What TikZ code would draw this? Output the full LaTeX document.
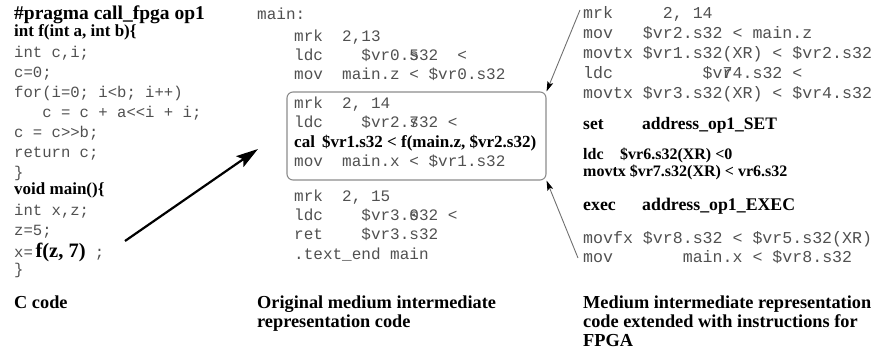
\documentclass[tikz,border=0pt]{standalone}
\usepackage{fontspec}
\setmainfont{Liberation Serif}
\setmonofont{Liberation Mono}
\usetikzlibrary{arrows.meta}

\definecolor{codegray}{HTML}{505050}
\definecolor{framegray}{HTML}{8C8C8C}
\definecolor{leadgray}{HTML}{707070}

% two glyphs printed on top of each other
\newcommand\ov[2]{\rlap{#1}#2}

\tikzset{
  code/.style={anchor=base west, inner sep=0pt, text=codegray,
               font=\ttfamily\fontsize{16}{16}\selectfont},
  lcode/.style={code, font=\ttfamily\fontsize{15.6}{16}\selectfont},
  rcode/.style={code, font=\ttfamily\fontsize{16.6}{17}\selectfont},
  boldline/.style={anchor=base west, inner sep=0pt,
                   font=\bfseries\fontsize{17}{17}\selectfont},
  caption/.style={anchor=base west, inner sep=0pt,
                  font=\bfseries\fontsize{18.3}{19}\selectfont},
  callbox/.style={draw=framegray, line width=1.1pt, rounded corners=6pt,
                  minimum width=259pt, minimum height=88pt, inner sep=0pt},
  bigarrow/.style={line width=2.2pt, -{Stealth[length=22pt, width=13pt, inset=4pt]}},
  leader/.style={draw=leadgray, line width=0.9pt,
                 -{Stealth[length=10pt, width=6pt, inset=2pt, color=black, fill=black]}},
}

\begin{document}
\begin{tikzpicture}[x=1pt, y=-1pt]
\useasboundingbox (0,0) rectangle (875,358);

% ---------------- C source ----------------
\node[boldline, font=\bfseries\fontsize{19.5}{20}\selectfont] (c01) at (14,20) {\#pragma call\_fpga op1};
\node[boldline] (c02) at (14,37) {int f(int a, int b)\{};
\node[lcode] (c03) at (14,58) {int c,i;};
\node[lcode] (c04) at (14,78) {c=0;};
\node[lcode] (c05) at (14,98) {for(i=0; i<b; i++)};
\node[lcode] (c06) at (14,118) {~~~c = c + a<<i + i;};
\node[lcode] (c07) at (14,138) {c = c>>b;};
\node[lcode] (c08) at (14,158) {return c;};
\node[lcode] (c09) at (14,178) {\}};
\node[boldline] (c10) at (14,195) {void main()\{};
\node[lcode] (c11) at (14,215) {int x,z;};
\node[lcode] (c12) at (14,235) {z=5;};
\node[lcode] (c13) at (14,257) {x=\,{\rmfamily\bfseries\color{black}\fontsize{20.5}{21}\selectfont f(z, 7)}~;};
\node[lcode] (c14) at (14,274) {\}};
\node[caption] (capc) at (14,308) {C code};

% ---------------- original intermediate code ----------------
\node[code] (m00) at (257,20) {main:};
\node[code] (m01) at (294,42) {mrk~~2,13};
\node[code] (m02) at (294,61) {ldc~~~~\$vr0.\ov{5}{s}32~~<};
\node[code] (m03) at (294,80) {mov~~main.z~<~\$vr0.s32};

\node[callbox] (ibox) at (416.5,136) {};
\node[code] (m04) at (294,109) {mrk~~2,~14};
\node[code] (m05) at (294,128) {ldc~~~~\$vr2.\ov{7}{s}32~<};
\node[boldline, font=\bfseries\fontsize{17}{17}\selectfont] (m06) at (294,148) {cal\, \$vr1.s32 < f(main.z, \$vr2.s32)};
\node[code] (m07) at (294,167) {mov~~main.x~<~\$vr1.s32};

\node[code] (m08) at (294,201) {mrk~~2,~15};
\node[code] (m09) at (294,221) {ldc~~~~\$vr3.\ov{0}{s}32~<};
\node[code] (m10) at (294,240) {ret~~~~\$vr3.s32};
\node[code] (m11) at (294,259) {.text\_end~main};
\node[caption] (capm1) at (257,308) {Original medium intermediate};
\node[caption] (capm2) at (257,327) {representation code};

% ---------------- extended code for the FPGA ----------------
\node[rcode] (r01) at (583,19) {mrk~~~~~2,~14};
\node[rcode] (r02) at (583,39) {mov~~~\$vr2.s32~<~main.z};
\node[rcode] (r03) at (583,59) {movtx~\$vr1.s32(XR)~<~\$vr2.s32};
\node[rcode] (r04) at (583,79) {ldc~~~~~~~~~\$v\ov{7}{r}4.s32~<};
\node[rcode] (r05) at (583,99) {movtx~\$vr3.s32(XR)~<~\$vr4.s32};
\node[boldline, font=\bfseries\fontsize{17.5}{18}\selectfont] (r06) at (583,130) {\makebox[59pt][l]{set}address\_op1\_SET};
\node[boldline, font=\bfseries\fontsize{16}{16}\selectfont] (r07) at (583,160) {\makebox[37pt][l]{ldc}\$vr6.s32(XR) <0};
\node[boldline, font=\bfseries\fontsize{16}{16}\selectfont] (r08) at (583,177) {movtx \$vr7.s32(XR) < vr6.s32};
\node[boldline, font=\bfseries\fontsize{17.8}{18}\selectfont] (r09) at (583,211) {\makebox[59pt][l]{exec}address\_op1\_EXEC};
\node[rcode] (r10) at (583,243) {movfx~\$vr8.s32~<~\$vr5.s32(XR)};
\node[rcode] (r11) at (583,262) {mov~~~~~~~main.x~<~\$vr8.s32};
\node[caption] (capr1) at (583,308) {Medium intermediate representation};
\node[caption] (capr2) at (583,327) {code extended with instructions for};
\node[caption] (capr3) at (583,346) {FPGA};

% ---------------- connectors ----------------
\coordinate (callsite) at (125,241);
\coordinate (irlead) at (258,149);
\draw[bigarrow] (callsite) -- (irlead);

\coordinate (toptail) at (580,10);
\coordinate (bottail) at (578,258);
\draw[leader] (toptail) -- (ibox.north east);
\draw[leader] (bottail) -- (ibox.south east);
\end{tikzpicture}
\end{document}
